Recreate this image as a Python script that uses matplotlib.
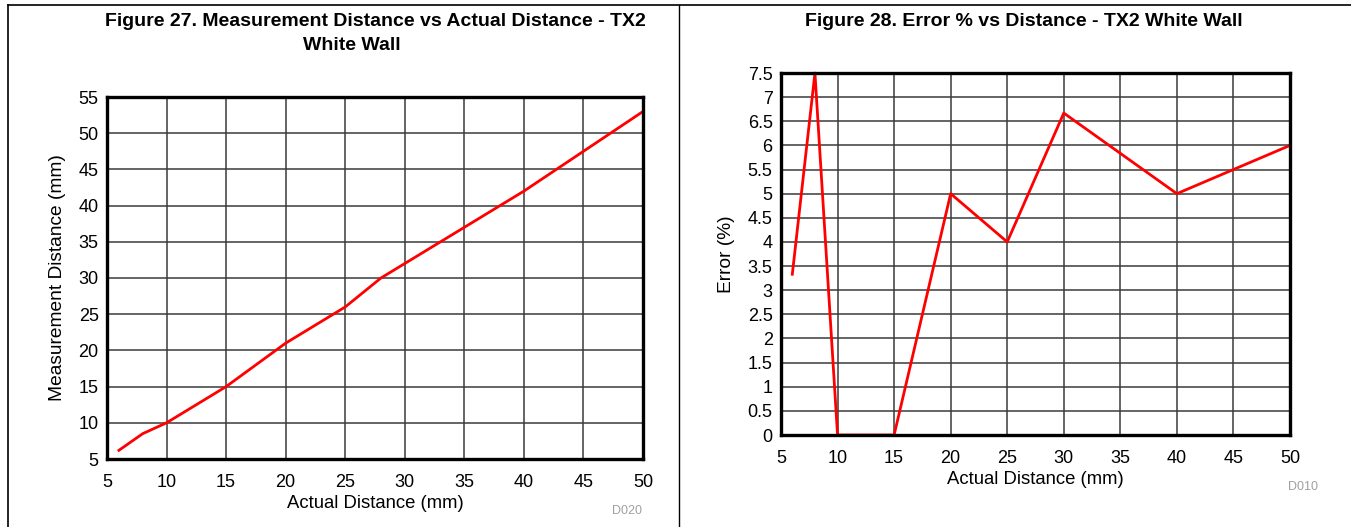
import matplotlib
matplotlib.use("Agg")
import matplotlib.pyplot as plt
from matplotlib.lines import Line2D

plt.rcParams['font.family'] = ['Liberation Sans', 'DejaVu Sans']

# Figure 27 data
actual_27 = [6, 8, 10, 15, 20, 25, 28, 30, 35, 40, 50]
measured_27 = [6.2, 8.5, 10, 15, 21, 26, 30, 32, 37, 42, 53]

# Figure 28 data
actual_28 = [6, 8, 10, 15, 20, 25, 30, 40, 50]
error_28 = [3.33, 7.5, 0, 0, 5, 4, 6.67, 5, 6]

x_ticks = list(range(5, 55, 5))
y_ticks_27 = list(range(5, 60, 5))
y_ticks_28 = [i * 0.5 for i in range(16)]
y_labels_28 = ['0', '0.5', '1', '1.5', '2', '2.5', '3', '3.5', '4', '4.5',
               '5', '5.5', '6', '6.5', '7', '7.5']

W, H = 1351, 527
fig = plt.figure(figsize=(W / 100, H / 100), dpi=100)


def setup_axes(ax, yticks, ylabels, ylim, ylabel):
    ax.set_xlim(5, 50)
    ax.set_ylim(*ylim)
    ax.set_xticks(x_ticks)
    ax.set_yticks(yticks)
    ax.set_yticklabels(ylabels)
    ax.tick_params(length=0, labelsize=13)
    ax.tick_params(axis='x', pad=11)
    ax.tick_params(axis='y', pad=6)
    ax.grid(True, color='#3a3a3a', linewidth=1.1)
    ax.set_axisbelow(True)
    for s in ax.spines.values():
        s.set_linewidth(2.4)
        s.set_color('black')
    ax.set_xlabel('Actual Distance (mm)', fontsize=13.3, labelpad=3)
    ax.set_ylabel(ylabel, fontsize=13.8, labelpad=9)


# left chart
ax1 = fig.add_axes([107 / W, 1 - 459 / H, 536 / W, 362 / H])
setup_axes(ax1, y_ticks_27, [str(v) for v in y_ticks_27], (5, 55),
           'Measurement Distance (mm)')
ax1.plot(actual_27, measured_27, color='red', linewidth=2, clip_on=False)

# right chart
ax2 = fig.add_axes([781 / W, 1 - 435 / H, 509 / W, 362 / H])
setup_axes(ax2, y_ticks_28, y_labels_28, (0, 7.5), 'Error (%)')
ax2.plot(actual_28, error_28, color='red', linewidth=2, clip_on=False)

# titles
fig.text(375 / W, 1 - 22 / H, 'Figure 27. Measurement Distance vs Actual Distance - TX2',
         ha='center', va='center', fontsize=14, fontweight='bold')
fig.text(352 / W, 1 - 45 / H, 'White Wall',
         ha='center', va='center', fontsize=14, fontweight='bold')
fig.text(1024 / W, 1 - 22 / H, 'Figure 28. Error % vs Distance - TX2 White Wall',
         ha='center', va='center', fontsize=14, fontweight='bold')

# figure ids
fig.text(627 / W, 1 - 511 / H, 'D020', ha='center', va='center',
         fontsize=9, color='#a0a0a0')
fig.text(1303 / W, 1 - 487 / H, 'D010', ha='center', va='center',
         fontsize=9, color='#a0a0a0')

# frame: top and left edges plus divider
fig.add_artist(Line2D([8 / W, 1], [1 - 5 / H, 1 - 5 / H], transform=fig.transFigure,
                      color='black', linewidth=1.2))
fig.add_artist(Line2D([8 / W, 8 / W], [0, 1 - 5 / H], transform=fig.transFigure,
                      color='black', linewidth=1.2))
fig.add_artist(Line2D([679 / W, 679 / W], [0, 1 - 5 / H], transform=fig.transFigure,
                      color='black', linewidth=1))

fig.savefig('out.png', dpi=100)
